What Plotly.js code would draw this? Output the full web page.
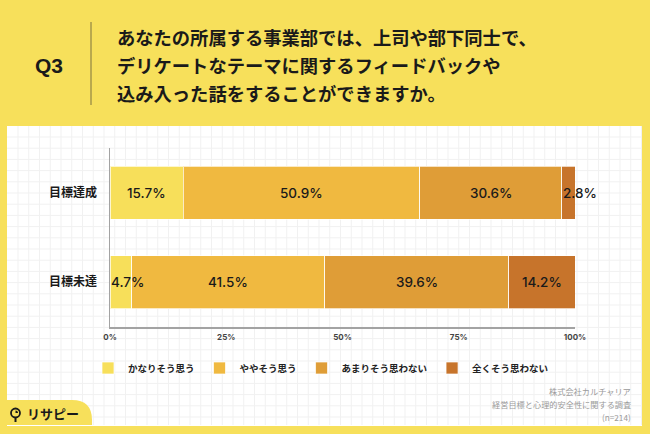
<!DOCTYPE html>
<html>
<head>
<meta charset="utf-8">
<script src="https://cdn.plot.ly/plotly-3.0.1.min.js"></script>
<style>
  html, body { margin: 0; padding: 0; background: #F7E05B; }
  #chart { width: 650px; height: 434px; }
</style>
</head>
<body>
<div id="chart"></div>
<script>
// ---- data ----
const categories = ['目標達成', '目標未達'];
const seriesNames = ['かなりそう思う', 'ややそう思う', 'あまりそう思わない', '全くそう思わない'];
const veryMuch = [15.7, 4.7];
const somewhat = [50.9, 41.5];
const notMuch = [30.6, 39.6];
const notAtAll = [2.8, 14.2];
const tickValues = [0, 25, 50, 75, 100];
const tickLabels = ['0%', '25%', '50%', '75%', '100%'];
const titleLines = [
  'あなたの所属する事業部では、上司や部下同士で、',
  'デリケートなテーマに関するフィードバックや',
  '込み入った話をすることができますか。'
];
const questionLabel = 'Q3';
const sourceLines = ['株式会社カルチャリア', '経営目標と心理的安全性に関する調査', '(n=214)'];
const logoText = 'リサピー';

// ---- styles ----
const colors = ['#F7DF5A', '#F0B940', '#DF9D37', '#C7742B'];
const JP = '"Noto Sans CJK JP", "Noto Sans", sans-serif';
const NUM = 'Inter, "Liberation Sans", sans-serif';

// plot area in pixels
const L = 110, R = 575, T = 148, B = 327;
const W = 650, H = 434;
const px = x => (x - L) / (R - L);
const py = y => (B - y) / (B - T);

const seriesValues = [veryMuch, somewhat, notMuch, notAtAll];

const traces = seriesValues.map((vals, i) => ({
  type: 'bar',
  orientation: 'h',
  name: seriesNames[i],
  y: categories,
  x: vals,
  marker: { color: colors[i], line: { color: 'rgba(255,255,255,0.7)', width: 1 } },
  hoverinfo: 'skip',
  textposition: 'none'
}));

// value labels from cumulative sums
const annotations = [];
categories.forEach((cat, ci) => {
  let cum = 0;
  seriesValues.forEach((vals) => {
    const v = vals[ci];
    const small = v < 5;
    annotations.push({
      xref: 'x', yref: 'y',
      x: small ? cum : cum + v / 2,
      y: cat,
      xanchor: small ? 'left' : 'center',
      yanchor: 'middle',
      text: v.toFixed(1) + '%',
      showarrow: false,
      borderpad: 0,
      font: { family: NUM, size: 13.5, color: '#1a1a1a', weight: 500 }
    });
    cum += v;
  });
});

// header
annotations.push({
  xref: 'paper', yref: 'paper', x: px(49), y: py(65),
  xanchor: 'center', yanchor: 'middle', showarrow: false,
  text: '<b>' + questionLabel + '</b>',
  font: { family: '"Liberation Sans", Arial, sans-serif', size: 21, color: '#1a1a1a' }
});
const titleY = [37, 65, 93];
titleLines.forEach((t, i) => {
  annotations.push({
    xref: 'paper', yref: 'paper', x: px(116), y: py(titleY[i]),
    xanchor: 'left', yanchor: 'middle', showarrow: false, borderpad: 0,
    text: '<b>' + t + '</b>',
    font: { family: JP, size: 18.3, color: '#1a1a1a' }
  });
});
// source
const srcY = [391, 404, 417];
sourceLines.forEach((t, i) => {
  annotations.push({
    xref: 'paper', yref: 'paper', x: px(632), y: py(srcY[i]),
    xanchor: 'right', yanchor: 'middle', showarrow: false, borderpad: 0,
    text: t,
    font: { family: JP, size: 8.2, color: '#9a9a9a' }
  });
});
// logo
annotations.push({
  xref: 'paper', yref: 'paper', x: px(26), y: py(413),
  xanchor: 'left', yanchor: 'middle', showarrow: false, borderpad: 0,
  text: '<b>' + logoText + '</b>',
  font: { family: JP, size: 13, color: '#1a1a1a' }
});

// background grid path
let grid = '';
for (let x = 18; x < 642; x += 10.75) {
  grid += 'M' + px(x) + ',' + py(126) + 'L' + px(x) + ',' + py(425);
}
for (let y = 137; y < 425; y += 11.2) {
  grid += 'M' + px(7) + ',' + py(y) + 'L' + px(642) + ',' + py(y);
}

// yellow tab bottom-left
const tab = 'M' + px(7) + ',' + py(400) +
  'L' + px(72) + ',' + py(400) +
  'Q' + px(92) + ',' + py(400) + ' ' + px(92) + ',' + py(420) +
  'L' + px(92) + ',' + py(425) +
  'L' + px(7) + ',' + py(425) + 'Z';

const shapes = [
  { type: 'rect', xref: 'paper', yref: 'paper', layer: 'below',
    x0: px(7), x1: px(642), y0: py(426), y1: py(126),
    fillcolor: '#ffffff', line: { width: 0 } },
  { type: 'path', xref: 'paper', yref: 'paper', layer: 'below',
    path: grid, line: { color: '#f1f1f1', width: 1 } },
  { type: 'path', xref: 'paper', yref: 'paper', layer: 'below',
    path: tab, fillcolor: '#F7E05B', line: { width: 0 } },
  { type: 'line', xref: 'paper', yref: 'paper', layer: 'below',
    x0: px(91), x1: px(91), y0: py(22), y1: py(105),
    line: { color: '#7d7240', width: 1 } },
  // logo icon
  { type: 'circle', xref: 'paper', yref: 'paper', layer: 'above',
    x0: px(11), x1: px(20), y0: py(417.5), y1: py(408.5),
    fillcolor: '#F7E05B', line: { color: '#1a1a1a', width: 1.8 } },
  { type: 'line', xref: 'paper', yref: 'paper', layer: 'above',
    x0: px(15.5), x1: px(15.5), y0: py(418), y1: py(422),
    line: { color: '#1a1a1a', width: 2 } },
  { type: 'path', xref: 'paper', yref: 'paper', layer: 'above',
    path: 'M' + px(15.5) + ',' + py(413) + 'L' + px(15.5) + ',' + py(410.5) +
      'Q' + px(18) + ',' + py(410.5) + ' ' + px(18) + ',' + py(413) + 'Z',
    fillcolor: '#1a1a1a', line: { width: 0 } }
];

const layout = {
  width: W, height: H,
  margin: { l: L, r: W - R, t: T, b: H - B, pad: 0 },
  paper_bgcolor: '#F7E05B',
  plot_bgcolor: 'rgba(0,0,0,0)',
  barmode: 'stack',
  bargap: 0.41,
  showlegend: true,
  legend: {
    orientation: 'h',
    x: px(88), xanchor: 'left',
    y: py(368), yanchor: 'middle',
    bgcolor: 'rgba(0,0,0,0)',
    font: { family: JP, size: 9.5, color: '#222', weight: 'bold' },
    itemwidth: 30,
    traceorder: 'normal',
    itemclick: false, itemdoubleclick: false
  },
  xaxis: {
    range: [0, 100],
    tickvals: tickValues,
    ticktext: tickLabels,
    showgrid: false,
    zeroline: false,
    showline: true,
    linecolor: '#a3a3a3',
    linewidth: 1.5,
    ticks: '',
    ticklabelstandoff: 2,
    tickfont: { family: NUM, size: 8, color: '#444', weight: 'bold' },
    fixedrange: true
  },
  yaxis: {
    autorange: 'reversed',
    showgrid: false,
    zeroline: false,
    showline: true,
    linecolor: '#a3a3a3',
    linewidth: 1.5,
    ticks: '',
    ticklabelstandoff: 9,
    tickfont: { family: JP, size: 12, color: '#1a1a1a', weight: 'bold' },
    fixedrange: true
  },
  annotations: annotations,
  shapes: shapes,
  font: { family: JP }
};

Plotly.newPlot('chart', traces, layout, { displayModeBar: false, staticPlot: true });
</script>
</body>
</html>
